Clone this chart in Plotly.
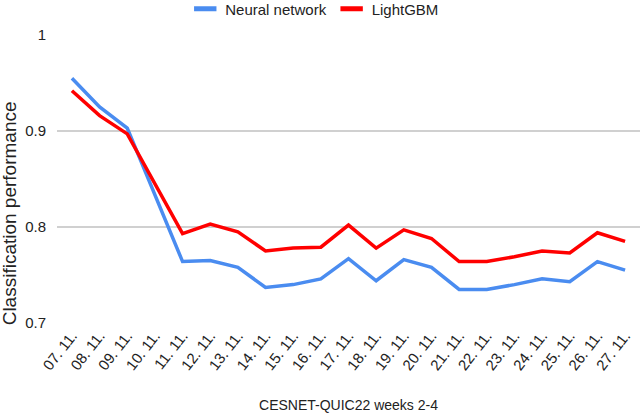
import plotly.graph_objects as go

# data
days = ["07. 11.", "08. 11.", "09. 11.", "10. 11.", "11. 11.", "12. 11.", "13. 11.",
        "14. 11.", "15. 11.", "16. 11.", "17. 11.", "18. 11.", "19. 11.", "20. 11.",
        "21. 11.", "22. 11.", "23. 11.", "24. 11.", "25. 11.", "26. 11.", "27. 11."]
neural_network = [0.955, 0.925, 0.903, 0.834, 0.764, 0.765, 0.758, 0.737, 0.740, 0.746,
                  0.767, 0.744, 0.766, 0.758, 0.735, 0.735, 0.740, 0.746, 0.743, 0.764, 0.755]
lightgbm = [0.942, 0.916, 0.897, 0.845, 0.793, 0.803, 0.795, 0.775, 0.778, 0.779,
            0.802, 0.778, 0.797, 0.788, 0.764, 0.764, 0.769, 0.775, 0.773, 0.794, 0.785]

series = [("Neural network", neural_network, "#4a8cf0"),
          ("LightGBM", lightgbm, "#ff0000")]

fig = go.Figure()
for name, values, color in series:
    fig.add_trace(go.Scatter(x=days, y=values, mode="lines", name=name,
                             line=dict(color=color, width=3.5), showlegend=False))
    # short flat bar as legend key, like the original sheet chart
    fig.add_trace(go.Scatter(x=[None], y=[None], mode="markers", name=name,
                             marker=dict(symbol="line-ew", size=16,
                                         line=dict(color=color, width=6))))

fig.update_layout(
    width=640, height=417,
    margin=dict(l=57, r=0, t=35, b=94, autoexpand=False),
    plot_bgcolor="white", paper_bgcolor="white",
    font=dict(family="Liberation Sans, Arial, sans-serif", size=15, color="#222222"),
    legend=dict(orientation="h", x=0.22, xanchor="left", y=1.09, yanchor="middle",
                font=dict(size=15), itemwidth=30, bgcolor="rgba(0,0,0,0)"),
    xaxis=dict(
        type="category", range=[-0.54, 20.54], tickangle=-52,
        showgrid=False, showline=False, ticks="", automargin=False,
        tickfont=dict(size=15),
        title=dict(text="CESNET-QUIC22 weeks 2-4", font=dict(size=14), standoff=27),
    ),
    yaxis=dict(
        range=[0.7, 1.0], dtick=0.1, tick0=0.7,
        showgrid=True, gridcolor="#d0d0d0", gridwidth=1.5,
        zeroline=False, showline=False, ticks="", automargin=False,
        ticklabelstandoff=10, tickfont=dict(size=15),
    ),
)

# y title sits lower than the plot centre in the original, so place it by hand
fig.add_annotation(text="Classification performance", textangle=-90,
                   xref="paper", yref="paper", x=-0.081, y=0.38,
                   xanchor="center", yanchor="middle", showarrow=False,
                   font=dict(size=19))

# page body has an 8px default margin; drop it so the chart sits at the corner
fig.write_html("out.html", config={"displayModeBar": False},
               post_script="document.body.style.margin='0';")
